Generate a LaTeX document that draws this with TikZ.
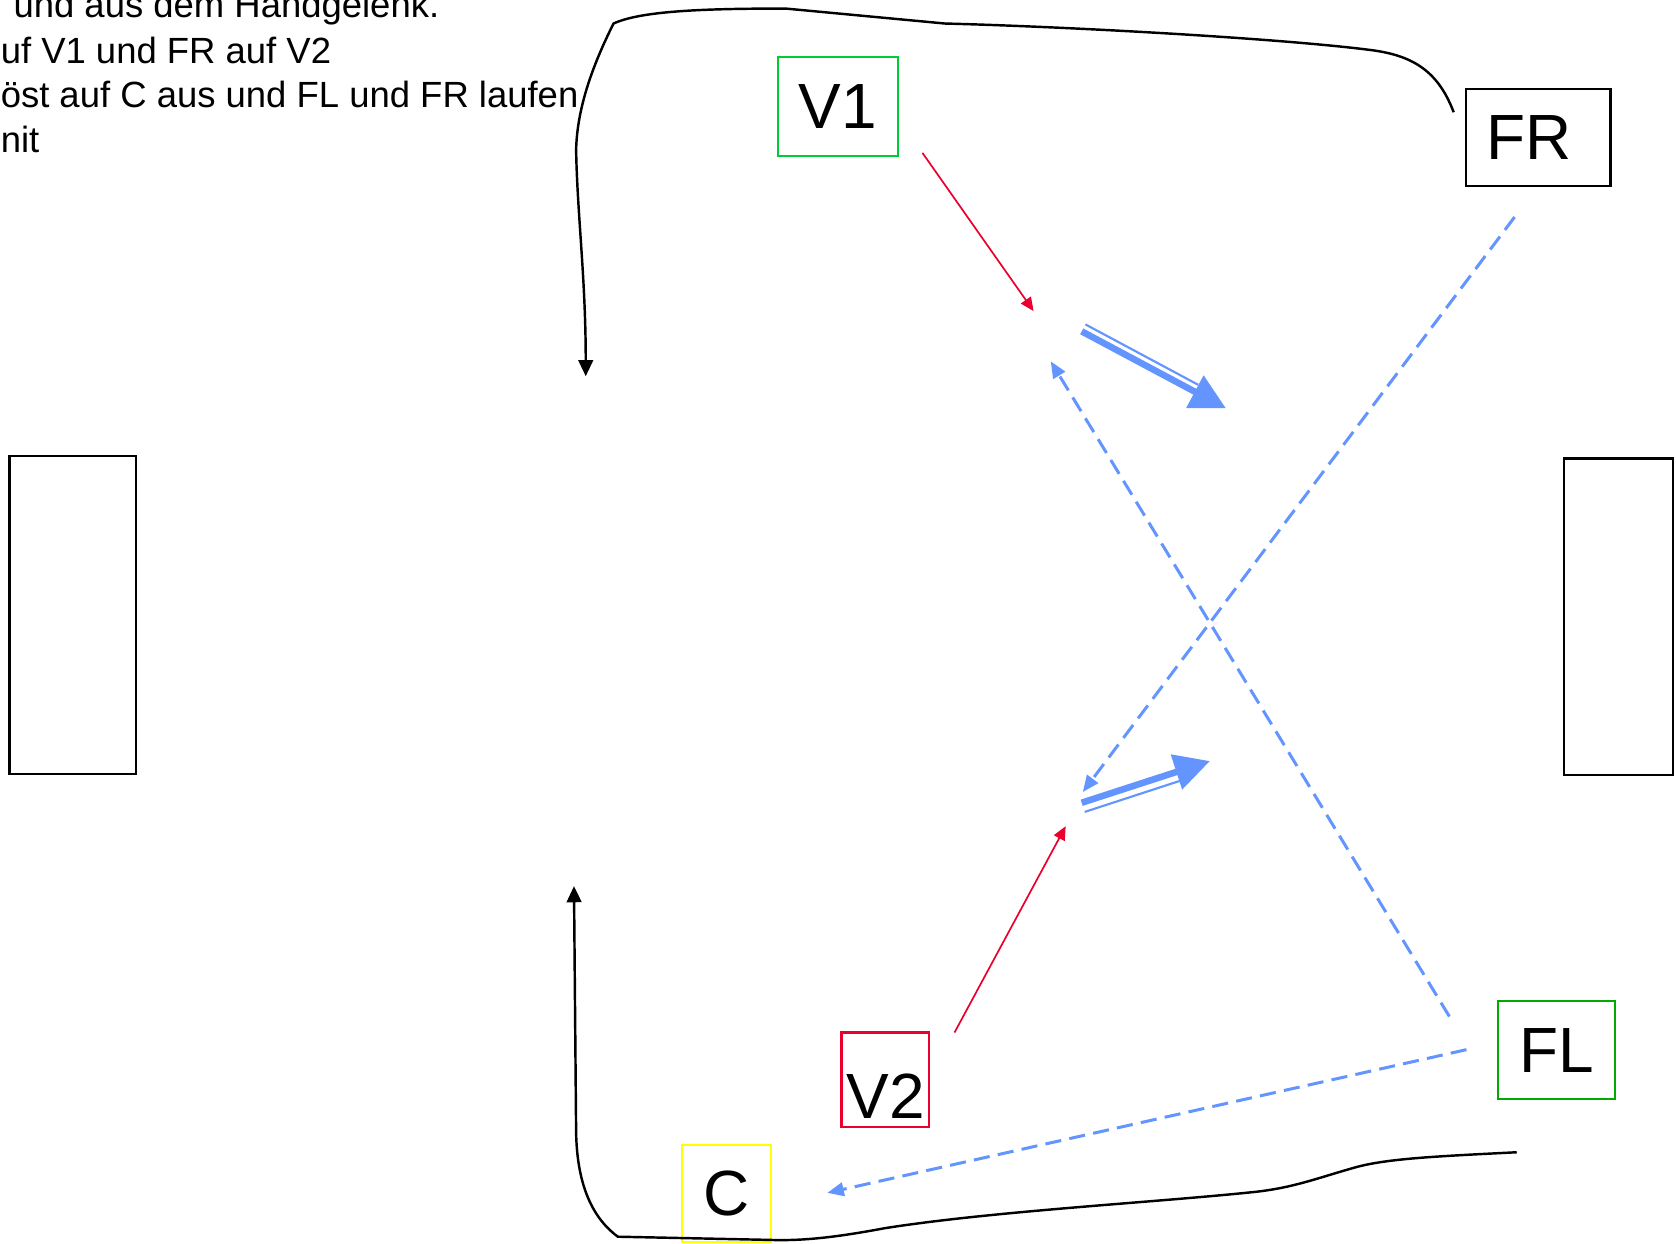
\documentclass[tikz,border=0pt]{standalone}
\usepackage{fontspec}
\setmainfont{Liberation Sans}
\usetikzlibrary{arrows.meta}
\definecolor{boxgreen}{RGB}{0,204,51}
\definecolor{flgreen}{RGB}{0,170,0}
\definecolor{boxred}{RGB}{235,0,45}
\definecolor{boxyellow}{RGB}{255,255,0}
\definecolor{flowblue}{RGB}{100,149,255}

\begin{document}
\begin{tikzpicture}[
    x=0.01cm, y=-0.01cm,
    spotbox/.style={rectangle, draw, line width=0.6pt, inner sep=0pt,
      font=\fontsize{17}{20}\selectfont},
    wheel/.style={rectangle, draw, line width=0.6pt, inner sep=0pt},
    note/.style={anchor=base west, inner sep=0pt, font=\fontsize{9.7}{11.8}\selectfont},
    hitline/.style={draw=boxred, line width=0.45pt, -{Triangle[length=3.6pt, width=3.2pt]}},
    runline/.style={draw=flowblue, line width=0.8pt, dash pattern=on 4.3pt off 2.2pt,
      -{Triangle[length=4.4pt, width=3.6pt]}},
    curveline/.style={black, line width=0.65pt, -{Triangle[length=4.3pt, width=3.9pt]}},
    pushline/.style={draw=flowblue, line width=1.75pt, -{Triangle[length=0.33cm, width=0.33cm]}},
    pushthin/.style={draw=flowblue, line width=0.57pt}]
  \useasboundingbox (0,0) rectangle (1568,1163);
  \clip (0,0) rectangle (1568,1163);
  % text at the top left
  \node[note] (t1) at (12,16.5) {und aus dem Handgelenk.};
  \node[note] (t2) at (0,59) {uf V1 und FR auf V2};
  \node[note] (t3) at (0,101) {öst auf C aus und FL und FR laufen};
  \node[note] (t4) at (0,142.5) {nit};
  % side rectangles
  \node[wheel, minimum width=1.18cm, minimum height=2.97cm] (wl) at (68,575.5) {};
  \node[wheel, minimum width=1.02cm, minimum height=2.96cm] (wr) at (1514,577) {};
  % positions
  \node[spotbox, draw=boxgreen, minimum width=1.12cm, minimum height=0.93cm] (v1) at (784,99.5) {V1};
  \node[spotbox, minimum width=1.355cm, minimum height=0.907cm] (fr) at (1439,128.3) {FR\kern0.17cm};
  \node[spotbox, draw=boxred, minimum width=0.82cm, minimum height=0.88cm,
    text height=0.73cm] (v2) at (828.4,1010) {V2};
  \node[spotbox, draw=boxyellow, minimum width=0.827cm, minimum height=0.908cm] (c) at (679.7,1116.6) {C};
  \node[spotbox, draw=flgreen, minimum width=1.09cm, minimum height=0.92cm] (fl) at (1456.3,982.4) {FL};
  % arrow ends
  \coordinate (v1out) at (863,143);
  \coordinate (v1in) at (967,291);
  \coordinate (v2out) at (893,966);
  \coordinate (v2in) at (997,773);
  \coordinate (frout) at (1417,203);
  \coordinate (frin) at (1013,741);
  \coordinate (flout) at (1356,951);
  \coordinate (flin) at (983,338);
  \coordinate (flcout) at (1372,982);
  \coordinate (cin) at (774,1116);
  \coordinate (pushA) at (1012,310);
  \coordinate (pushAend) at (1147,382);
  \coordinate (pushAthin) at (1015.5,303.5);
  \coordinate (pushAthinend) at (1121,360);
  \coordinate (pushB) at (1012,751);
  \coordinate (pushBend) at (1132,712);
  \coordinate (pushBthin) at (1014.8,759.6);
  \coordinate (pushBthinend) at (1104,730.5);
  \coordinate (topstart) at (1360,105);
  \coordinate (topend) at (548,352);
  \coordinate (botstart) at (1419,1078);
  \coordinate (botend) at (537,829);
  % red hits
  \draw[hitline] (v1out) -- (v1in);
  \draw[hitline] (v2out) -- (v2in);
  % blue runs
  \draw[runline] (frout) -- (frin);
  \draw[runline] (flout) -- (flin);
  \draw[runline] (flcout) -- (cin);
  % double arrows
  \draw[pushthin] (pushAthin) -- (pushAthinend);
  \draw[pushline] (pushA) -- (pushAend);
  \draw[pushthin] (pushBthin) -- (pushBthinend);
  \draw[pushline] (pushB) -- (pushBend);
  % black curves
  \draw[curveline] (topstart) .. controls (1345,65) and (1320,52) .. (1284,47)
    .. controls (1200,36) and (1000,25) .. (884,22) -- (735,8)
    .. controls (660,8) and (600,10) .. (574,22)
    .. controls (555,60) and (540,100) .. (539,140)
    .. controls (540,200) and (548,260) .. (topend);
  \draw[curveline] (botstart) .. controls (1340,1082) and (1295,1084) .. (1265,1093)
    .. controls (1230,1103) and (1210,1111) .. (1175,1115)
    .. controls (1080,1125) and (930,1133) .. (828,1149)
    .. controls (780,1158) and (750,1161) .. (720,1160) -- (578,1157)
    .. controls (555,1140) and (540,1110) .. (539,1060) -- (botend);
\end{tikzpicture}
\end{document}
